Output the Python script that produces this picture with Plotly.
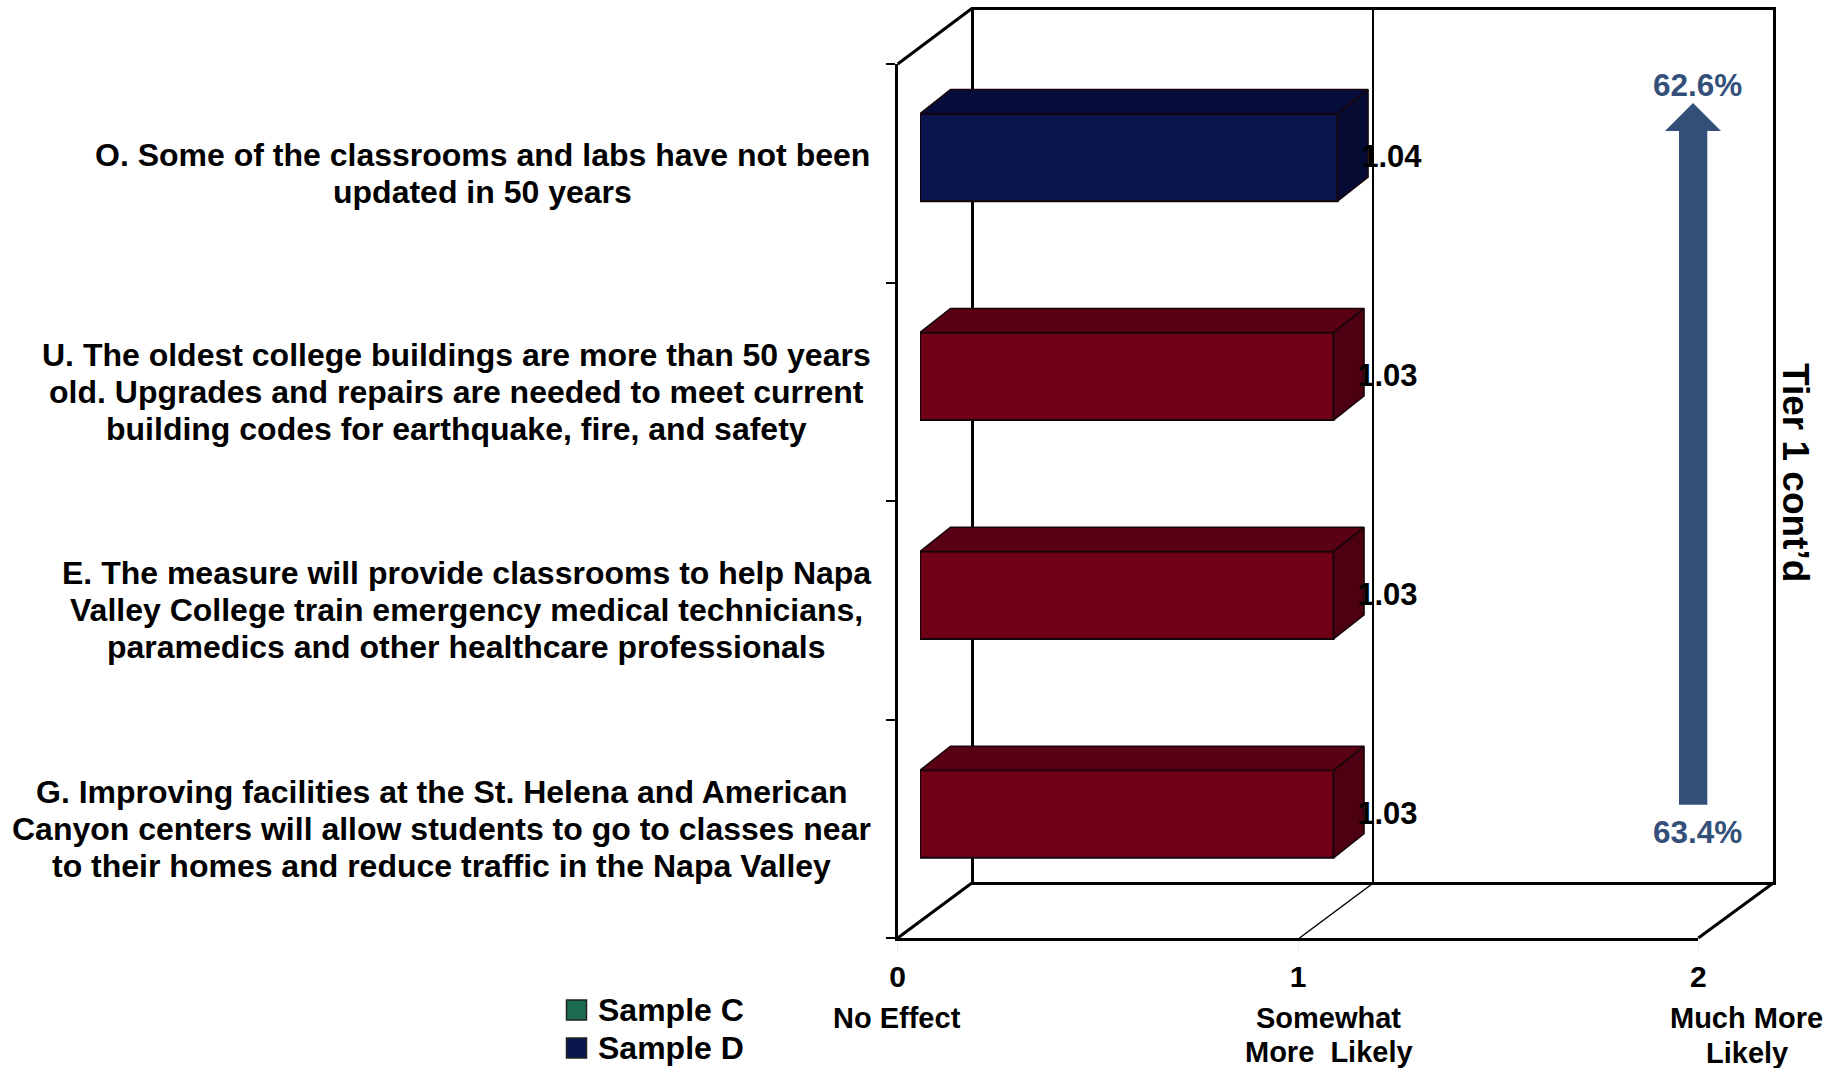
import plotly.graph_objects as go

W, H = 1837, 1068
FONT = "Liberation Sans, Arial, sans-serif"

# ---- data (bottom to top) ----
category_lines = [
    ["G. Improving facilities at the St. Helena and American",
     "Canyon centers will allow students to go to classes near",
     "to their homes and reduce traffic in the Napa Valley"],
    ["E. The measure will provide classrooms to help Napa",
     "Valley College train emergency medical technicians,",
     "paramedics and other healthcare professionals"],
    ["U. The oldest college buildings are more than 50 years",
     "old. Upgrades and repairs are needed to meet current",
     "building codes for earthquake, fire, and safety"],
    ["O. Some of the classrooms and labs have not been",
     "updated in 50 years"],
]
label_centers_px = [441, 466, 456, 482.5]
values = [1.03, 1.03, 1.03, 1.04]
face_colors = ["#700016", "#700016", "#700016", "#0A144F"]
top_colors = ["#5A0014", "#5A0014", "#5A0014", "#060D3A"]
side_colors = ["#4C0012", "#4C0012", "#4C0012", "#050B33"]
x_ticks = [0, 1, 2]
x_captions = [(896.5, 1018, "No Effect"), (1328.5, 1018, "Somewhat"), (1328.5, 1052, "More  Likely"),
              (1746.7, 1018, "Much More"), (1746.7, 1053, "Likely")]
legend_names = ["Sample C", "Sample D"]
legend_colors = ["#1B6B52", "#0A144F"]
legend_rows_px = [1010, 1048]
pct_top, pct_bottom = "62.6%", "63.4%"
side_title = "Tier 1 cont’d"
ARROW_COLOR = "#34507A"


def X(px):
    return px / W


def Y(py):
    return 1 - py / H


DEPTH_X, DEPTH_Y, HALF = 0.076, 0.11, 0.2
fig = go.Figure()

# empty traces so the back-wall and front-plane axes are drawn
fig.add_trace(go.Scatter(x=[None], y=[None], mode="lines", showlegend=False, hoverinfo="skip",
                         xaxis="x", yaxis="y"))
fig.add_trace(go.Scatter(x=[None], y=[None], mode="lines", showlegend=False, hoverinfo="skip",
                         xaxis="x2", yaxis="y2"))

for i, v in enumerate(values):
    # top face
    fig.add_trace(go.Scatter(
        x=[0, DEPTH_X, v + DEPTH_X, v, 0],
        y=[i + HALF, i + HALF + DEPTH_Y, i + HALF + DEPTH_Y, i + HALF, i + HALF],
        fill="toself", fillcolor=top_colors[i], mode="lines",
        line=dict(color="#16060a", width=1.5), showlegend=False, hoverinfo="skip",
        xaxis="x3", yaxis="y3"))
    # side face
    fig.add_trace(go.Scatter(
        x=[v, v + DEPTH_X, v + DEPTH_X, v, v],
        y=[i - HALF, i - HALF + DEPTH_Y, i + HALF + DEPTH_Y, i + HALF, i - HALF],
        fill="toself", fillcolor=side_colors[i], mode="lines",
        line=dict(color="#16060a", width=1.5), showlegend=False, hoverinfo="skip",
        xaxis="x3", yaxis="y3"))

fig.add_trace(go.Bar(
    x=values, y=list(range(len(values))), orientation="h", width=2 * HALF,
    marker=dict(color=face_colors, line=dict(color="#12060a", width=2)),
    showlegend=False, xaxis="x3", yaxis="y3"))

fig.add_trace(go.Scatter(
    x=[v + 0.134 for v in values], y=[i - 0.01 for i in range(len(values))],
    text=[f"{v:.2f}" for v in values], mode="text", showlegend=False,
    textfont=dict(family=FONT, size=31, color="black", weight="bold"),
    xaxis="x3", yaxis="y3"))

annotations = []
LINE_PX = 36.9
for i, lines in enumerate(category_lines):
    n = len(lines)
    for j, line in enumerate(lines):
        annotations.append(dict(
            text=f"<b>{line}</b>", xref="paper", x=X(label_centers_px[i]), xanchor="center",
            yref="y2", y=i + 0.5, yanchor="middle", yshift=-(j - (n - 1) / 2) * LINE_PX,
            showarrow=False, font=dict(family=FONT, size=32, color="black")))
for px, py, t in x_captions:
    annotations.append(dict(
        text=f"<b>{t}</b>", xref="paper", yref="paper", x=X(px), y=Y(py),
        xanchor="center", yanchor="middle", showarrow=False,
        font=dict(family=FONT, size=29, color="black")))
for py, t in [(85, pct_top), (832, pct_bottom)]:
    annotations.append(dict(
        text=f"<b>{t}</b>", xref="paper", yref="paper", x=X(1697.5), y=Y(py),
        xanchor="center", yanchor="middle", showarrow=False,
        font=dict(family=FONT, size=31.5, color=ARROW_COLOR)))
annotations.append(dict(
    text=f"<b>{side_title}</b>", xref="paper", yref="paper", x=X(1795), y=Y(472),
    xanchor="center", yanchor="middle", showarrow=False, textangle=90,
    font=dict(family=FONT, size=37, color="black")))
for name, row in zip(legend_names, legend_rows_px):
    annotations.append(dict(
        text=f"<b>{name}</b>", xref="paper", yref="paper", x=X(598), y=Y(row),
        xanchor="left", yanchor="middle", showarrow=False, xshift=-2,
        font=dict(family=FONT, size=32, color="black")))

arrow_pts = [(1693, 103), (1721, 131), (1707.3, 131), (1707.3, 804.7),
             (1679, 804.7), (1679, 131), (1665, 131)]
arrow_path = "M " + " L ".join(f"{X(a)},{Y(b)}" for a, b in arrow_pts) + " Z"


def seg(x0, y0, x1, y1, w=3):
    return dict(type="line", xref="paper", yref="paper", x0=X(x0), y0=Y(y0), x1=X(x1), y1=Y(y1),
                line=dict(color="black", width=w), layer="below")


shapes = [
    seg(897.7, 64, 972.5, 8),
    seg(897.7, 938, 972.5, 882.5),
    seg(1299.5, 938, 1374, 882.5, 1.5),
    seg(1698.3, 938, 1774, 882.5),
    dict(type="path", xref="paper", yref="paper", path=arrow_path,
         fillcolor=ARROW_COLOR, line=dict(width=0)),
]
for col, row in zip(legend_colors, legend_rows_px):
    shapes.append(dict(type="rect", xref="paper", yref="paper",
                       x0=X(566.5), x1=X(586.5), y0=Y(row - 10), y1=Y(row + 10),
                       fillcolor=col, line=dict(color="#222222", width=1.5)))

hidden = dict(showticklabels=False, ticks="", zeroline=False, automargin=False)
fig.update_layout(
    width=W, height=H, margin=dict(l=0, r=0, t=0, b=0, autoexpand=False),
    paper_bgcolor="white", plot_bgcolor="rgba(0,0,0,0)",
    font=dict(family=FONT, color="black"),
    barmode="overlay", showlegend=False,
    # back wall
    xaxis=dict(domain=[X(973.5), X(1773)], range=[0, 2], anchor="y", dtick=1, showgrid=True,
               gridcolor="black", gridwidth=2, showline=True, linecolor="black", linewidth=3,
               mirror=True, **hidden),
    yaxis=dict(domain=[Y(881.5), Y(9.5)], range=[0, 1], anchor="x", showgrid=False,
               showline=True, linecolor="black", linewidth=3, mirror=True, **hidden),
    # front plane: value axis and category ticks
    xaxis2=dict(domain=[X(897.7), X(1698.3)], range=[0, 2], anchor="y2", tickvals=x_ticks,
                showgrid=False, zeroline=False, showline=True, linecolor="black", linewidth=3,
                automargin=False, ticks="outside", ticklen=10, tickcolor="#eeeedd", tickwidth=1,
                ticklabelstandoff=0,
                tickfont=dict(family=FONT, size=30, color="black", weight="bold")),
    yaxis2=dict(domain=[Y(938), Y(64)], range=[0, 4], anchor="x2", dtick=1, showgrid=False,
                zeroline=False, showline=True, linecolor="black", linewidth=2.5, ticks="outside",
                automargin=False, ticklen=9, tickcolor="black", tickwidth=2, showticklabels=False),
    # bar plane
    xaxis3=dict(domain=[X(920), X(1723)], range=[0, 2], anchor="y3", visible=False, automargin=False),
    yaxis3=dict(domain=[Y(923.5), Y(48)], range=[-0.5, 3.5], anchor="x3", visible=False, automargin=False),
    annotations=annotations, shapes=shapes,
)

fig.write_html("out.html", post_script="document.body.style.margin='0';",
               config=dict(displayModeBar=False))
